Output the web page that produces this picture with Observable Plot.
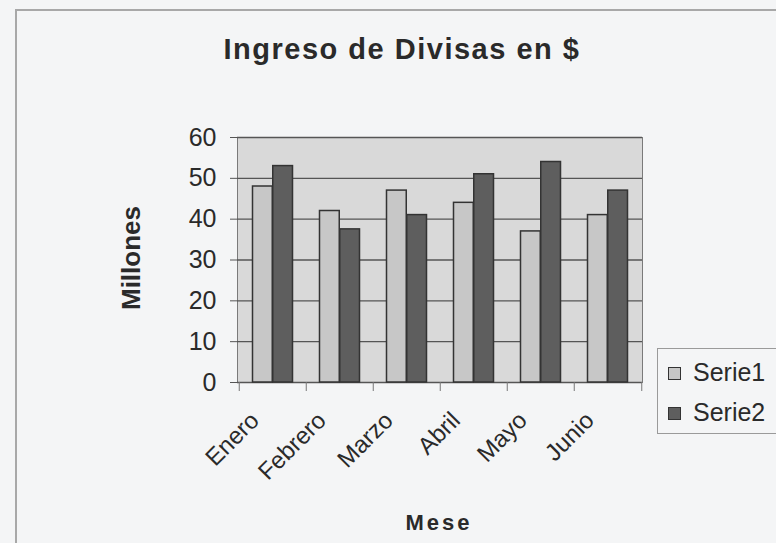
<!DOCTYPE html>
<html>
<head>
<meta charset="utf-8">
<script src="https://cdn.jsdelivr.net/npm/d3@7"></script>
<script src="https://cdn.jsdelivr.net/npm/@observablehq/plot@0.6"></script>
<style>
  html, body { margin: 0; padding: 0; background: #f4f5f6; }
  #wrap { position: relative; width: 776px; height: 543px; overflow: hidden; font-family: "Liberation Sans", Arial, sans-serif; color: #2a2a2a; }
  #border { position: absolute; left: 15px; top: 9px; width: 900px; height: 700px; border-left: 2px solid #a8a8a8; border-top: 2px solid #a8a8a8; }
  #title { position: absolute; left: 0; width: 804px; top: 33px; text-align: center; font-weight: bold; font-size: 29px; letter-spacing: 1.5px; }
  #ylab { position: absolute; left: 131px; top: 258px; transform: translate(-50%, -50%) rotate(-90deg); font-weight: bold; font-size: 26px; white-space: nowrap; }
  #xlab { position: absolute; left: 439px; top: 510px; transform: translateX(-50%); font-weight: bold; font-size: 22px; letter-spacing: 3px; white-space: nowrap; }
  #legend { position: absolute; left: 657px; top: 348px; width: 200px; height: 84px; border: 1.5px solid #9a9a9a; }
  .item { position: absolute; left: 10px; font-size: 25px; white-space: nowrap; }
  .sw { display: inline-block; width: 11px; height: 11px; border: 1.5px solid #333; margin-right: 12px; vertical-align: 1px; }
  #plot { position: absolute; left: 0; top: 0; }
</style>
</head>
<body>
<div id="wrap">
  <div id="border"></div>
  <div id="title"></div>
  <div id="plot"></div>
  <div id="ylab"></div>
  <div id="xlab"></div>
  <div id="legend"></div>
</div>
<script>
const titleText = "Ingreso de Divisas en $";
const yLabel = "Millones";
const xLabel = "Mese";
const months = ["Enero", "Febrero", "Marzo", "Abril", "Mayo", "Junio"];
const seriesNames = ["Serie1", "Serie2"];
const serie1 = [48, 42, 47, 44, 37, 41];
const serie2 = [53, 37.5, 41, 51, 54, 47];
const yTicks = [0, 10, 20, 30, 40, 50, 60];
const colors = ["#c7c7c7", "#5e5e5e"];

document.getElementById("title").textContent = titleText;
document.getElementById("ylab").textContent = yLabel;
document.getElementById("xlab").textContent = xLabel;

const rows1 = months.map((m, i) => ({month: m, value: serie1[i]}));
const rows2 = months.map((m, i) => ({month: m, value: serie2[i]}));

const W = 776, H = 543, mL = 237, mR = 134, mT = 137, mB = 161;
const bw = (W - mL - mR) / months.length;

const chart = Plot.plot({
  width: W,
  height: H,
  marginLeft: mL,
  marginRight: mR,
  marginTop: mT,
  marginBottom: mB,
  style: {background: "transparent", fontFamily: "Liberation Sans, Arial, sans-serif", fontSize: "24px", color: "#2a2a2a"},
  x: {type: "band", domain: months, padding: 0, label: null},
  y: {domain: [0, 60], label: null},
  marks: [
    Plot.frame({fill: "#d9d9d9", stroke: "#7a7a7a"}),
    Plot.ruleY(yTicks, {stroke: "#555", strokeWidth: 1.3}),
    Plot.barY(rows1, {x: "month", y: "value", fill: colors[0], stroke: "#333", strokeWidth: 1.5, insetLeft: bw * 0.2, insetRight: bw * 0.5}),
    Plot.barY(rows2, {x: "month", y: "value", fill: colors[1], stroke: "#333", strokeWidth: 1.5, insetLeft: bw * 0.5, insetRight: bw * 0.2}),
    Plot.ruleX(months, {x: d => d, dx: -bw / 2, y1: 0, y2: 0, insetBottom: -9, stroke: "#777"}),
    Plot.ruleX(months.slice(-1), {x: d => d, dx: bw / 2, y1: 0, y2: 0, insetBottom: -9, stroke: "#777"}),
    Plot.axisY({ticks: yTicks, tickSize: 7, tickPadding: 14, fontSize: 25, stroke: "#555", label: null}),
    Plot.axisX({tickSize: 0, tickRotate: -45, tickPadding: 34, dx: -18, fontSize: 24, label: null})
  ]
});
document.getElementById("plot").appendChild(chart);

const legend = document.getElementById("legend");
seriesNames.forEach((name, i) => {
  const item = document.createElement("div");
  item.className = "item";
  item.style.top = (i === 0 ? 9 : 49) + "px";
  const sw = document.createElement("span");
  sw.className = "sw";
  sw.style.background = colors[i];
  item.appendChild(sw);
  item.appendChild(document.createTextNode(name));
  legend.appendChild(item);
});
</script>
</body>
</html>
